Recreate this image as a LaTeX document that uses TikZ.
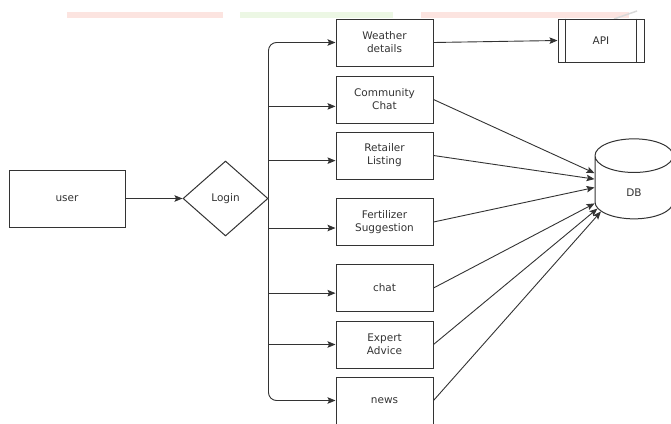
\documentclass[tikz,border=0pt]{standalone}
\usepackage{fontspec}
\setmainfont{DejaVu Sans}
\usetikzlibrary{arrows.meta,shapes.geometric}

\definecolor{stripred}{HTML}{FCE4E0}
\definecolor{stripgreen}{HTML}{ECF7E4}
\definecolor{inkgray}{HTML}{333333}

\def\bw{97}
\def\bh{47}
\def\bx{384.5}

\begin{document}
\begin{tikzpicture}[x=1pt,y=-1pt,font=\fontsize{10.5}{13}\selectfont,text=inkgray,
	boxline/.style={draw=inkgray,line width=1pt},
	featbox/.style={rectangle,boxline,inner sep=0pt,minimum width=\bw pt,minimum height=\bh pt,align=center},
	userbox/.style={featbox,minimum width=116pt,minimum height=57pt},
	apibox/.style={featbox,minimum width=86pt,minimum height=43pt},
	logindia/.style={diamond,boxline,inner sep=0pt,minimum width=85pt,minimum height=75pt},
	dbcyl/.style={cylinder,shape border rotate=90,shape aspect=2.2,boxline,inner sep=0pt,minimum width=78pt,minimum height=80pt,text height=17pt,text depth=0pt},
	arr/.style={draw=inkgray,line width=0.9pt,-{Stealth[length=8pt,width=6.5pt,inset=1.5pt]}}]
	\useasboundingbox (0,0) rectangle (671,423);
	% faint strip along the top
	\fill[stripred] (67,12) rectangle (223,18);
	\fill[stripgreen] (240,12) rectangle (393,18);
	\fill[stripred] (421,12) rectangle (629,18);
	\draw[black!15,line width=1.5pt] (614,19) -- (637,11);

	\node[userbox] (us) at (67,198.5) {user};
	\node[logindia] (lg) at (225.5,198.5) {Login};

	\node[featbox] (wd) at (\bx,42.5) {Weather\\details};
	\node[featbox] (cc) at (\bx,99.5) {Community\\Chat};
	\node[featbox] (rl) at (\bx,155.5) {Retailer\\Listing};
	\node[featbox] (fs) at (\bx,222) {Fertilizer\\Suggestion};
	\node[featbox] (ch) at (\bx,288) {chat};
	\node[featbox] (ea) at (\bx,344.5) {Expert\\Advice};
	\node[featbox] (nw) at (\bx,400.5) {news};

	\node[apibox] (api) at (601,40.5) {API};
	\draw[boxline] ([xshift=8pt]api.north west) -- ([xshift=8pt]api.south west);
	\draw[boxline] ([xshift=-8pt]api.north east) -- ([xshift=-8pt]api.south east);

	\node[dbcyl] (db) at (634,187.5) {DB};

	\draw[arr] (us) -- (lg);
	\draw[arr,rounded corners=8pt] (lg.east) |- (wd.west);
	\draw[arr,rounded corners=8pt] (lg.east) |- (nw.west);
	\foreach \b/\a in {cc/188,rl/186,fs/187,ch/186,ea/180}
		\draw[arr] (lg.east |- \b.\a) -- (\b.\a);

	\draw[arr] (wd.east) -- (api.west);
	\foreach \b/\a in {cc/160,rl/168,fs/180,ch/202,ea/210,nw/216}
		\draw[arr] (\b.east) -- (db.\a);
\end{tikzpicture}
\end{document}
